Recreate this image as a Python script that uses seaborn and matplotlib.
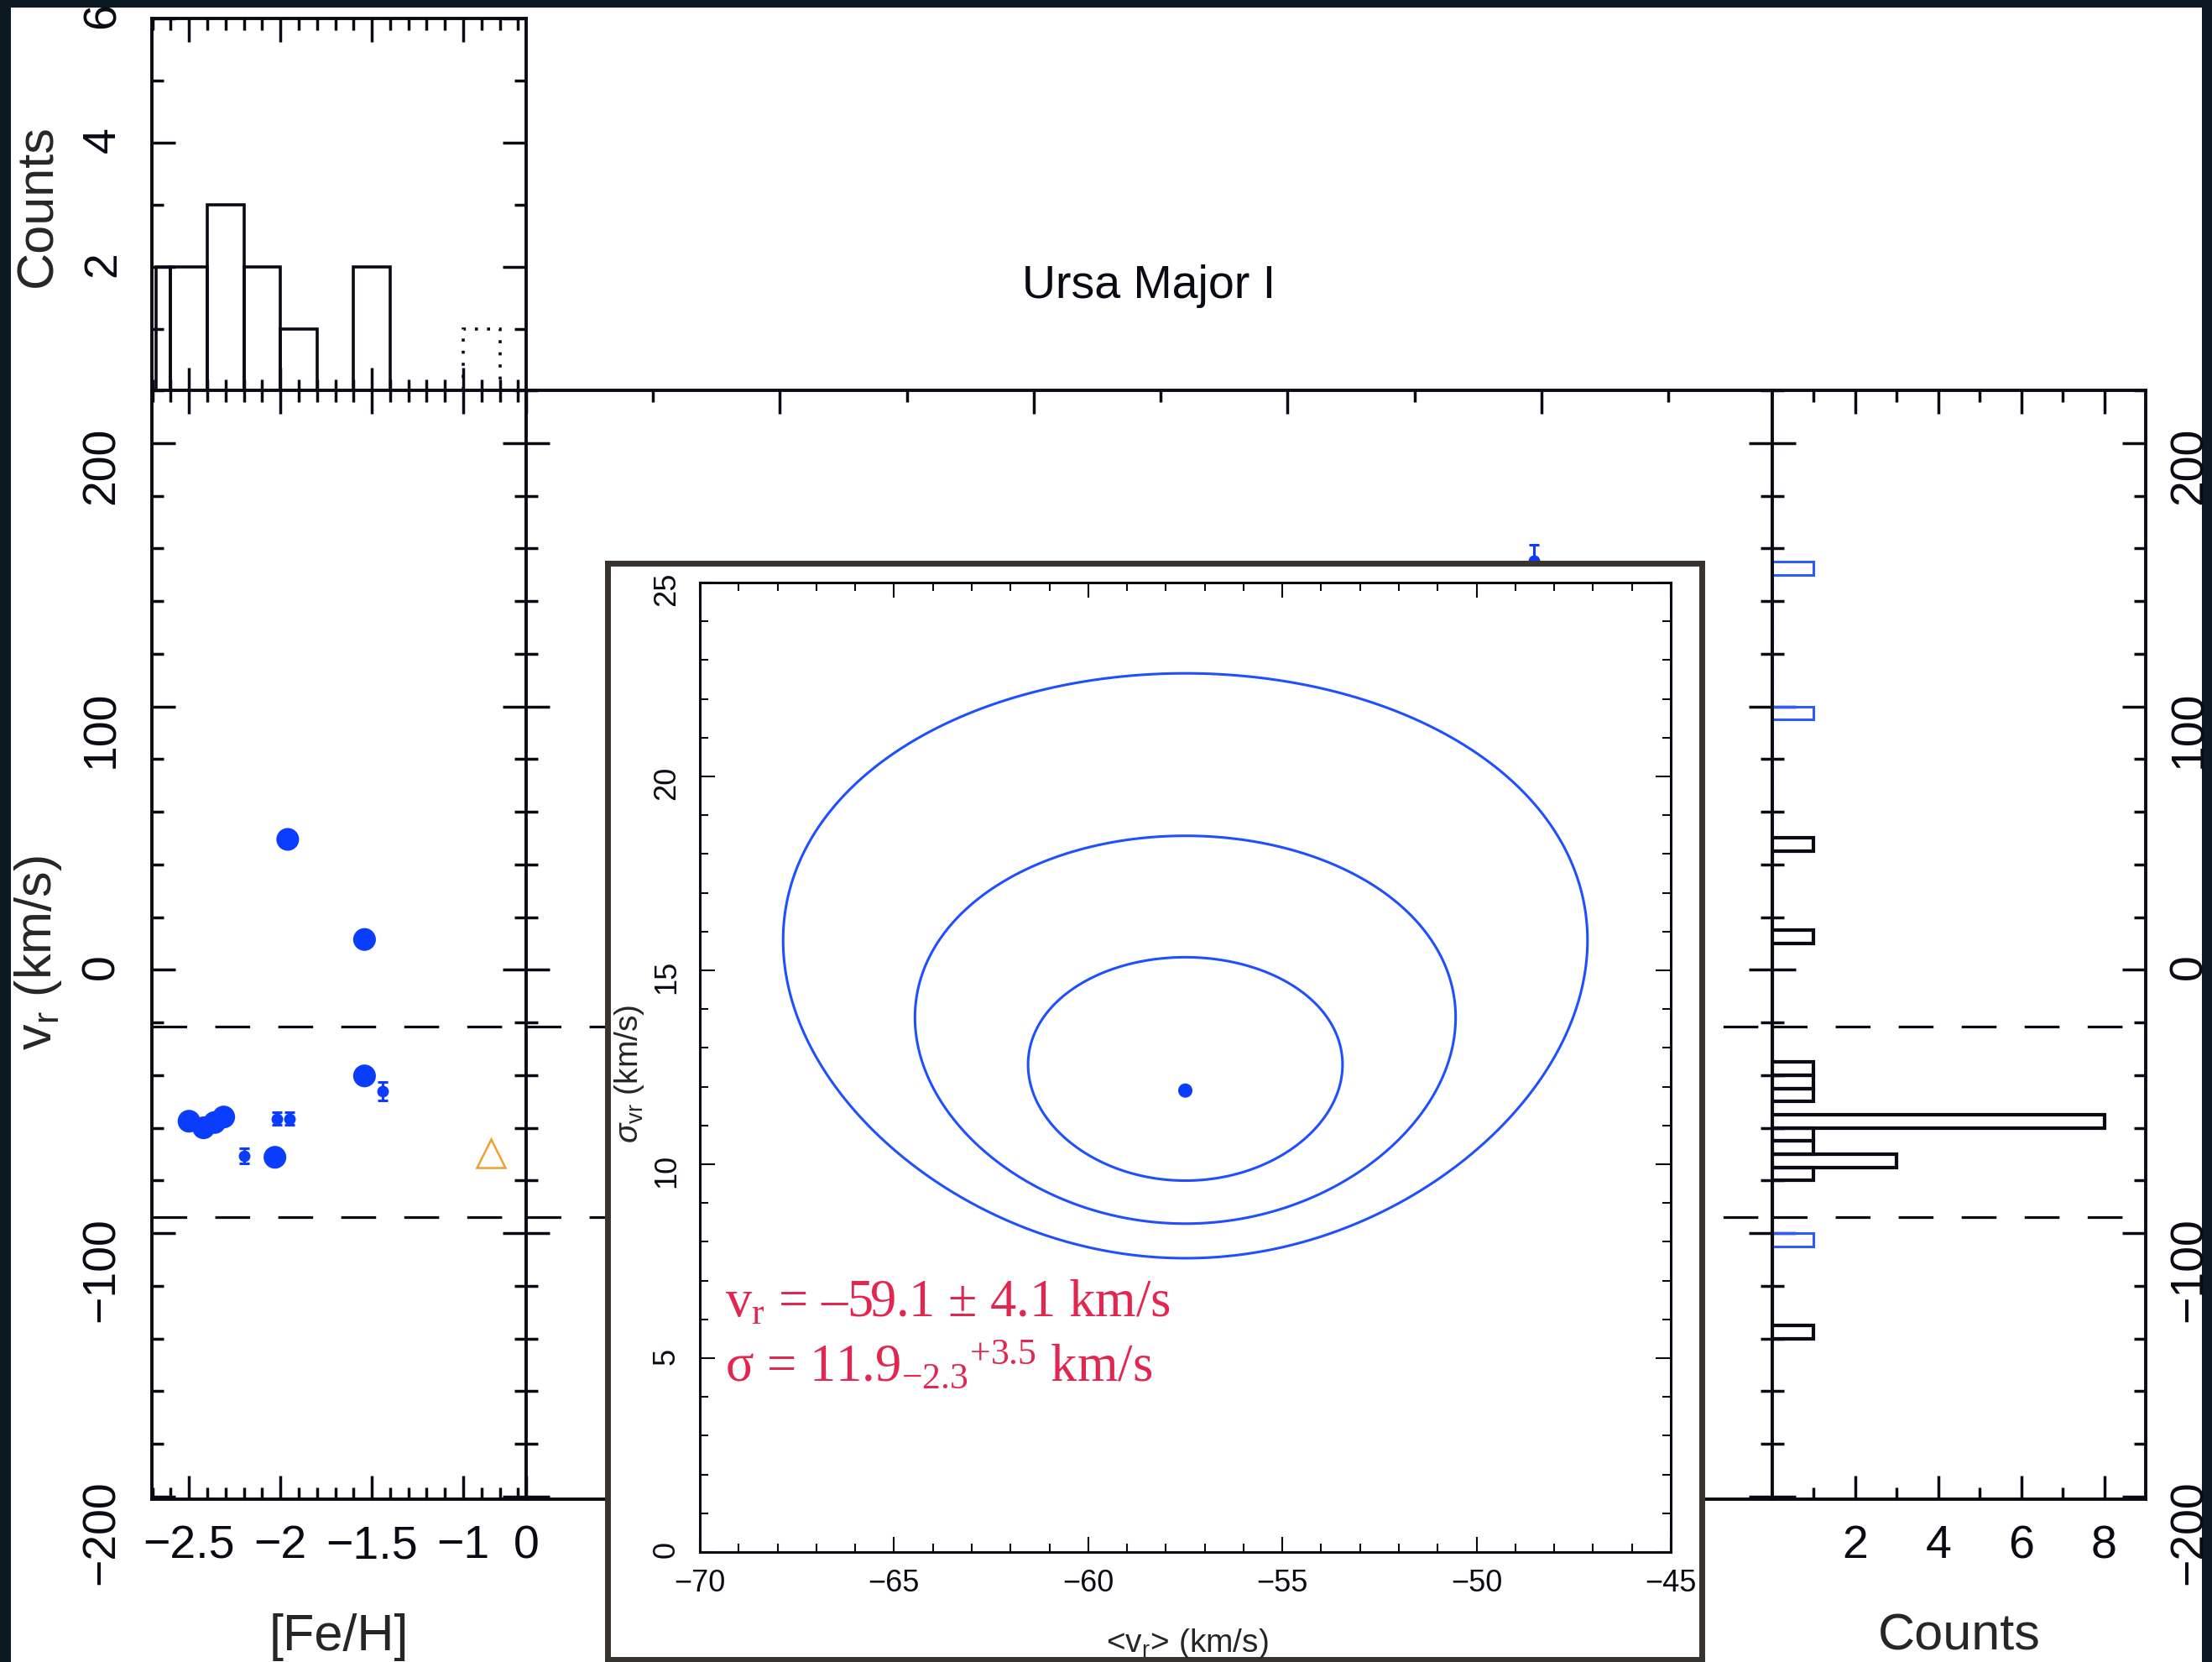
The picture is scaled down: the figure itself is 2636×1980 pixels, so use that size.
import numpy as np
import matplotlib
matplotlib.use("Agg")
import matplotlib.pyplot as plt
from matplotlib.patches import Rectangle
from matplotlib.ticker import MultipleLocator, FixedLocator, FuncFormatter
import seaborn as sns

sns.set_theme(style="white")
plt.rcParams["font.family"] = ["Liberation Sans", "DejaVu Sans"]
plt.rcParams["mathtext.fontset"] = "custom"
plt.rcParams["mathtext.rm"] = "Liberation Serif"
plt.rcParams["mathtext.it"] = "Liberation Sans:italic"
plt.rcParams["mathtext.sf"] = "Liberation Sans"
plt.rcParams["axes.unicode_minus"] = True

#%% DATA
# [Fe/H] vs v_r : big dots, small dots with error bars, one non-member
feh_big = [-1.96, -1.54, -1.54, -2.50, -2.42, -2.36, -2.31, -2.03]
vr_big = [49.5, 11.5, -40.3, -57.5, -60.0, -58.0, -55.9, -71.2]
feh_small = [-1.44, -2.02, -1.95, -2.20]
vr_small = [-46.2, -56.5, -56.5, -70.7]
vr_small_err = [3.5, 2.5, 2.5, 2.8]
feh_nonmem = [-0.85]
vr_nonmem = [-69.6]

# [Fe/H] histogram (members solid, non-member dotted)
feh_edges = [-2.68, -2.6, -2.4, -2.2, -2.0, -1.8, -1.6, -1.4]
feh_counts = [2, 2, 3, 2, 1, 0, 2]
feh_nm_edges = [-1.0, -0.8]
feh_nm_counts = [1]

# middle panel: the one star visible above the inset
r_vis = [3.97]
vr_vis = [155.4]
vr_vis_err = [6.0]

# v_r histogram, 5 km/s bins (bin centres)
vr_bins_all = [-137.5, -102.5, -77.5, -72.5, -67.5, -62.5, -57.5, -47.5,
               -42.5, -37.5, 12.5, 47.5, 97.5, 152.5]
vr_counts_all = [1, 1, 1, 3, 1, 1, 8, 1, 1, 1, 1, 1, 1, 1]
vr_bins_mem = [-137.5, -77.5, -72.5, -67.5, -62.5, -57.5, -47.5, -42.5,
               -37.5, 12.5, 47.5]
vr_counts_mem = [1, 1, 3, 1, 1, 8, 1, 1, 1, 1, 1]

# membership window
vr_cuts = [-21.5, -94.0]

# inset: likelihood of <v_r>, sigma
n_stars = 21
mean_vr = -57.5
sigma_vr = 11.9
dlnl_levels = [1.15, 3.09, 5.92]

#%% LAYOUT
W, H = 2636, 1981
ink = "#0a0a14"
blue = "#0b3dff"
red = "#e3264f"


def box(x0, y0, x1, y1):
    return [x0 / W, 1 - y1 / H, (x1 - x0) / W, (y1 - y0) / H]


def centres(edges):
    return [(a + b) / 2 for a, b in zip(edges[:-1], edges[1:])]


def style(ax, fs=40, maj=20, mnr=10, w=2.5, spine=2.8):
    for s in ax.spines.values():
        s.set_linewidth(spine)
        s.set_color(ink)
    ax.tick_params(which="both", direction="in", top=True, right=True,
                   bottom=True, left=True, width=w, colors=ink, labelsize=fs)
    ax.tick_params(which="major", length=maj)
    ax.tick_params(which="minor", length=mnr)


minus_fmt = FuncFormatter(lambda v, p: f"{v:g}".replace("-", "\u2212"))

fig = plt.figure(figsize=(W / 100, H / 100), dpi=100, facecolor="#0c1922")
fig.patches.append(Rectangle((13 / W, 0), (2624 - 13) / W, (H - 10) / H,
                             transform=fig.transFigure, facecolor="white",
                             edgecolor="none", zorder=-10))

ax_top = fig.add_axes(box(181, 23, 627, 467))
ax_left = fig.add_axes(box(181, 466, 627, 1787))
ax_mid = fig.add_axes(box(627, 466, 2112, 1787))
ax_right = fig.add_axes(box(2112, 466, 2557, 1787))
ax_frame = fig.add_axes(box(724, 672, 2028, 1978))
ax_in = fig.add_axes(box(834, 695, 1991, 1850))

vr_lim = (-201, 220)
feh_lim = (-2.703, -0.656)

#%% TOP: [Fe/H] histogram
sns.histplot(x=centres(feh_edges), weights=feh_counts, bins=feh_edges,
             element="bars", fill=False, color=ink, linewidth=2.6, ax=ax_top)
sns.histplot(x=centres(feh_nm_edges), weights=feh_nm_counts, bins=feh_nm_edges,
             element="bars", fill=False, color=ink, linewidth=2.6,
             linestyle=(0, (1, 3)), ax=ax_top)
style(ax_top)
ax_top.set_xlim(feh_lim)
ax_top.set_ylim(0, 6)
ax_top.xaxis.set_major_locator(FixedLocator([-2.5, -2, -1.5, -1]))
ax_top.xaxis.set_minor_locator(MultipleLocator(0.1))
ax_top.yaxis.set_major_locator(FixedLocator([2, 4, 6]))
ax_top.yaxis.set_minor_locator(FixedLocator([1, 3, 5]))
ax_top.tick_params(axis="x", labelbottom=False)
ax_top.tick_params(axis="y", labelrotation=90, pad=23)
ax_top.set_xlabel("")
ax_top.set_ylabel("Counts", fontsize=44)
ax_top.yaxis.label.set_va("center")
ax_top.yaxis.set_label_coords(-0.303, 0.5)

#%% LEFT: [Fe/H] vs v_r
ax_left.errorbar(feh_small, vr_small, yerr=vr_small_err, fmt="o", ms=9,
                 color=blue, ecolor=blue, elinewidth=2.2, capsize=4.5,
                 capthick=2.2, zorder=3)
sns.scatterplot(x=feh_big, y=vr_big, s=380, color=blue, edgecolor="none",
                ax=ax_left, zorder=4)
ax_left.plot(feh_nonmem, vr_nonmem, "^", ms=25, mfc="none", mec="#f0a030",
             mew=1.8)
style(ax_left)
ax_left.set_xlim(feh_lim)
ax_left.set_ylim(vr_lim)
ax_left.xaxis.set_major_locator(FixedLocator([-2.5, -2, -1.5, -1]))
ax_left.xaxis.set_minor_locator(MultipleLocator(0.1))
ax_left.xaxis.set_major_formatter(minus_fmt)
ax_left.yaxis.set_major_locator(MultipleLocator(100))
ax_left.yaxis.set_minor_locator(MultipleLocator(20))
ax_left.tick_params(axis="y", labelrotation=90, pad=24)
ax_left.tick_params(axis="x", pad=21)
ax_left.set_xlabel("[Fe/H]", fontsize=44)
ax_left.set_ylabel("v$_\\mathsf{r}$ (km/s)", fontsize=44)
ax_left.xaxis.label.set_va("center")
ax_left.yaxis.label.set_va("center")
ax_left.xaxis.set_label_coords(0.5, -0.1234)
ax_left.yaxis.set_label_coords(-0.303, 0.4936)

#%% MIDDLE: radius vs v_r (mostly under the inset)
ax_mid.errorbar(r_vis, vr_vis, yerr=vr_vis_err, fmt="o", ms=9, color=blue,
                ecolor=blue, elinewidth=2.2, capsize=4.5, capthick=2.2,
                zorder=3)
style(ax_mid)
ax_mid.set_xlim(0, 4.91)
ax_mid.set_ylim(vr_lim)
ax_mid.xaxis.set_major_locator(MultipleLocator(1))
ax_mid.xaxis.set_minor_locator(MultipleLocator(0.5))
ax_mid.yaxis.set_major_locator(MultipleLocator(100))
ax_mid.yaxis.set_minor_locator(MultipleLocator(20))
ax_mid.xaxis.set_major_formatter(minus_fmt)
ax_mid.tick_params(axis="y", labelleft=False)
ax_mid.tick_params(axis="x", pad=21)

#%% RIGHT: v_r histogram
sns.histplot(y=vr_bins_all, weights=vr_counts_all, binwidth=5,
             binrange=(-140, 155), element="bars", fill=False,
             color="#2a5cff", linewidth=2.2, ax=ax_right)
sns.histplot(y=vr_bins_mem, weights=vr_counts_mem, binwidth=5,
             binrange=(-140, 50), element="bars", fill=False,
             color=ink, linewidth=3.0, ax=ax_right)
style(ax_right)
ax_right.set_xlim(0, 9)
ax_right.set_ylim(vr_lim)
ax_right.xaxis.set_major_locator(FixedLocator([2, 4, 6, 8]))
ax_right.xaxis.set_minor_locator(FixedLocator([1, 3, 5, 7]))
ax_right.yaxis.set_major_locator(MultipleLocator(100))
ax_right.yaxis.set_minor_locator(MultipleLocator(20))
ax_right.tick_params(axis="y", labelleft=False, labelright=True,
                     labelrotation=90, pad=19)
ax_right.tick_params(axis="x", pad=21)
ax_right.set_ylabel("")
ax_right.set_xlabel("Counts", fontsize=44)
ax_right.xaxis.label.set_va("center")
ax_right.xaxis.set_label_coords(0.5, -0.1234)

for ax in (ax_left, ax_mid, ax_right):
    for v in vr_cuts:
        ax.axhline(v, color=ink, lw=2.3, ls=(0, (13, 10.5)), zorder=2)

#%% INSET: likelihood contours
ax_frame.set_xticks([])
ax_frame.set_yticks([])
ax_frame.set_facecolor("white")
for s in ax_frame.spines.values():
    s.set_linewidth(5)
    s.set_color("#38332f")

mu = np.linspace(-70, -45, 501)
sig = np.linspace(0.5, 25, 491)
MU, SIG = np.meshgrid(mu, sig)
lnl = -n_stars * np.log(SIG) - n_stars * (sigma_vr ** 2 + (MU - mean_vr) ** 2) / (2 * SIG ** 2)
lnl_max = -n_stars * np.log(sigma_vr) - n_stars / 2
ax_in.contour(MU, SIG, lnl_max - lnl, levels=dlnl_levels, colors="#1f4fff",
              linewidths=2.2)
sns.scatterplot(x=[mean_vr], y=[sigma_vr], s=150, color=blue, edgecolor="none",
                ax=ax_in, zorder=4)
style(ax_in, fs=26, maj=13, mnr=7, w=1.5, spine=2.2)
ax_in.set_xlim(-70, -45)
ax_in.set_ylim(0, 25)
ax_in.xaxis.set_major_locator(MultipleLocator(5))
ax_in.xaxis.set_minor_locator(MultipleLocator(1))
ax_in.yaxis.set_major_locator(MultipleLocator(5))
ax_in.yaxis.set_minor_locator(MultipleLocator(1))
ax_in.tick_params(axis="x", pad=14)
ax_in.tick_params(axis="y", labelrotation=90, pad=16)
ax_in.set_xlabel("<v$_\\mathsf{r}$> (km/s)", fontsize=28)
ax_in.set_ylabel("$\\sigma_{\\mathsf{vr}}$ (km/s)", fontsize=28)
ax_in.xaxis.label.set_va("center")
ax_in.yaxis.label.set_va("center")
ax_in.xaxis.set_label_coords(0.502, -0.0935)
ax_in.yaxis.set_label_coords(-0.0726, 0.4944)

ax_in.text(-69.36, 6.1, "v$_\\mathrm{r}$ = \u201359.1 \u00b1 4.1 km/s", color=red,
           fontsize=45, family="Liberation Serif", va="baseline")
ax_in.text(-69.36, 4.44, "\u03c3 = $\\mathrm{11.9_{-2.3}{}^{+3.5}}$ km/s",
           color=red, fontsize=45, family="Liberation Serif", va="baseline")

fig.text(1369 / W, 1 - 341 / H, "Ursa Major I", ha="center", va="center",
         fontsize=40, color=ink)

fig.savefig("out.png", dpi=100, facecolor=fig.get_facecolor())
